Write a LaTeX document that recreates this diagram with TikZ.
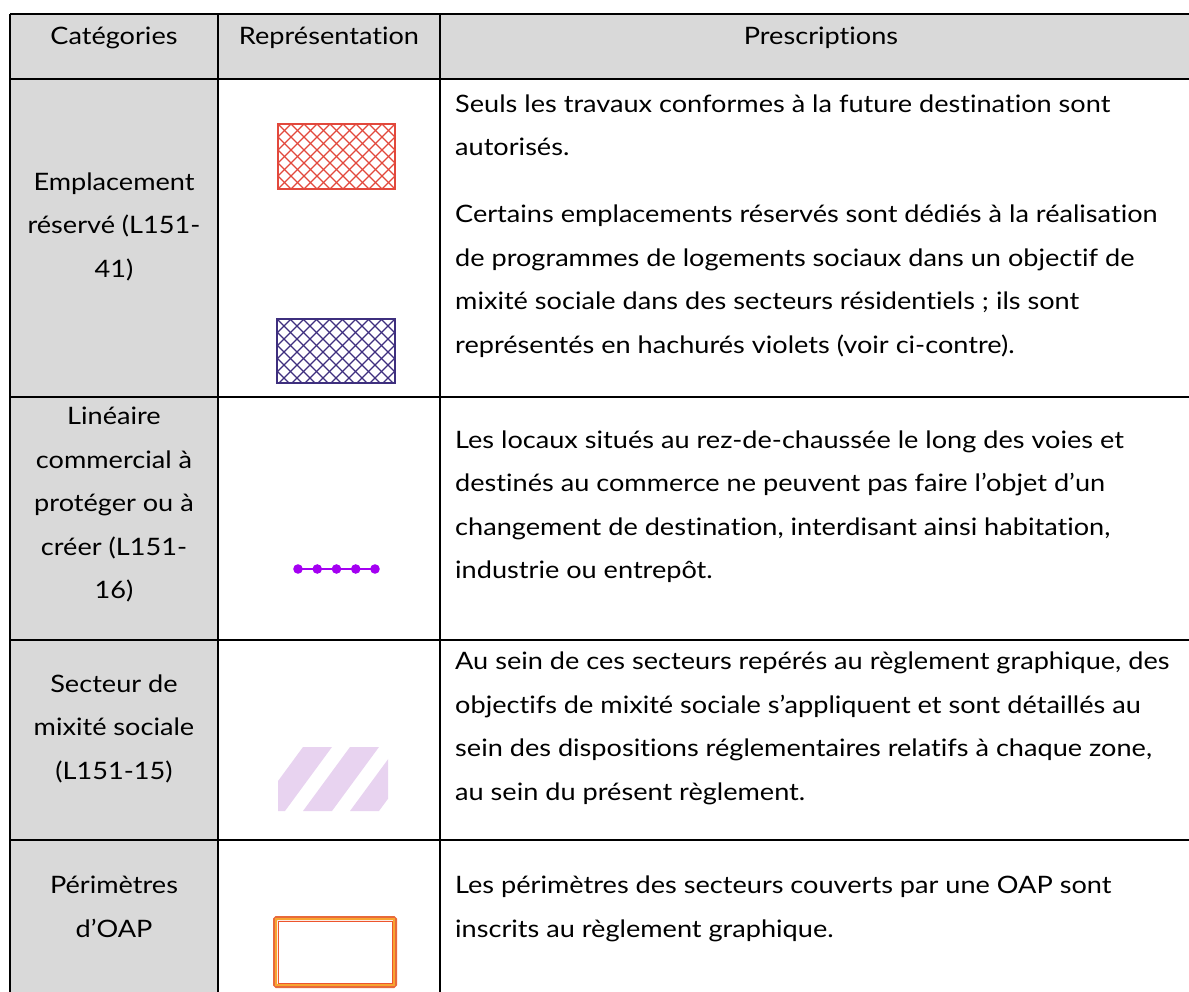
\documentclass[tikz,border=0pt]{standalone}
\usepackage{fontspec}
\setmainfont{Lato}[FakeStretch=1.13,Ligatures=NoCommon]
\definecolor{cellgray}{HTML}{D9D9D9}
\definecolor{hatchred}{HTML}{E2483C}
\definecolor{hatchpurple}{HTML}{3E2F7E}
\definecolor{dotviolet}{HTML}{A400F2}
\definecolor{stripelilac}{HTML}{E8D3F0}
\definecolor{frameorange}{HTML}{E86A3A}
\definecolor{frameyellow}{HTML}{F7A531}
\begin{document}
\begin{tikzpicture}[x=1pt,y=-1pt,
  txt/.style={inner sep=0pt,font=\fontsize{24}{43.5}\selectfont},
  para/.style={txt,anchor=north west,align=left},
  cat/.style={txt,anchor=north,align=center},
  grid/.style={line width=1.6pt,black}]
\useasboundingbox (0,0) rectangle (1189,992);
% gray fills
\fill[cellgray] (10,14) rectangle (1189,79);
\fill[cellgray] (10,79) rectangle (218,992);
% grid lines
\draw[grid] (10,14) -- (1189,14);
\draw[grid] (10,79) -- (1189,79);
\draw[grid] (10,397) -- (1189,397);
\draw[grid] (10,640) -- (1189,640);
\draw[grid] (10,840) -- (1189,840);
\draw[grid] (10,14) -- (10,992);
\draw[grid] (218,14) -- (218,992);
\draw[grid] (440,14) -- (440,992);
% header
\node[txt,anchor=base] (h1) at (114,45) {Catégories};
\node[txt,anchor=base] (h2) at (329,45) {Représentation};
\node[txt,anchor=base] (h3) at (821,45) {Prescriptions};
% categories
\node[cat] (c1) at (114,172.5) {Emplacement\\réservé (L151-\\41)};
\node[cat] (c2) at (114,407) {Linéaire\\commercial à\\protéger ou à\\créer (L151-\\16)};
\node[cat] (c3) at (114,674.5) {Secteur de\\mixité sociale\\(L151-15)};
\node[cat] (c4) at (114,876) {Périmètres\\d’OAP};
% prescriptions
\node[para] (p1a) at (455,94.5) {Seuls les travaux conformes à la future destination sont\\autorisés.};
\node[para] (p1b) at (455,205) {Certains emplacements réservés sont dédiés à la réalisation\\de programmes de logements sociaux dans un objectif de\\mixité sociale dans des secteurs résidentiels ; ils sont\\représentés en hachurés violets (voir ci-contre).};
\node[para] (p2) at (455,430.5) {Les locaux situés au rez-de-chaussée le long des voies et\\destinés au commerce ne peuvent pas faire l’objet d’un\\changement de destination, interdisant ainsi habitation,\\industrie ou entrepôt.};
\node[para] (p3) at (455,652) {Au sein de ces secteurs repérés au règlement graphique, des\\objectifs de mixité sociale s’appliquent et sont détaillés au\\sein des dispositions réglementaires relatifs à chaque zone,\\au sein du présent règlement.};
\node[para] (p4) at (455,876) {Les périmètres des secteurs couverts par une OAP sont\\inscrits au règlement graphique.};
% red crosshatch
\begin{scope}
\clip (278,124) rectangle (395,189);
\foreach \i in {-78,-65,...,130} {
  \draw[hatchred,line width=1.2pt] (278+\i,124) -- ++(65,65);
  \draw[hatchred,line width=1.2pt] (395-\i,124) -- ++(-65,65);
}
\end{scope}
\draw[hatchred,line width=1.6pt] (278,124) rectangle (395,189);
% purple crosshatch
\begin{scope}
\clip (277,319) rectangle (395,383);
\foreach \i in {-78,-65,...,130} {
  \draw[hatchpurple,line width=1.2pt] (277+\i,319) -- ++(64,64);
  \draw[hatchpurple,line width=1.2pt] (395-\i,319) -- ++(-64,64);
}
\end{scope}
\draw[hatchpurple,line width=1.6pt] (277,319) rectangle (395,383);
% violet dotted line
\coordinate (d1) at (298,569);
\coordinate (d5) at (375,569);
\draw[dotviolet,line width=2.5pt] (d1) -- (d5);
\foreach \x in {298,317.25,336.5,355.75,375}
  \fill[dotviolet] (\x,569) circle (4.8pt);
% lilac stripes
\begin{scope}
\clip (278,747) rectangle (388,811);
\foreach \x in {256,303,350} {
  \fill[stripelilac] (\x,811) -- (\x+29,811) -- (\x+76,747) -- (\x+47,747) -- cycle;
}
\end{scope}
% orange frame
\draw[frameorange,line width=4pt,rounded corners=1.5pt] (275,918) rectangle (395,986);
\draw[frameyellow,line width=1.2pt] (276,919) rectangle (394,985);
\draw[frameorange!80!red,line width=1pt] (278,921) rectangle (392,983);
\end{tikzpicture}
\end{document}
